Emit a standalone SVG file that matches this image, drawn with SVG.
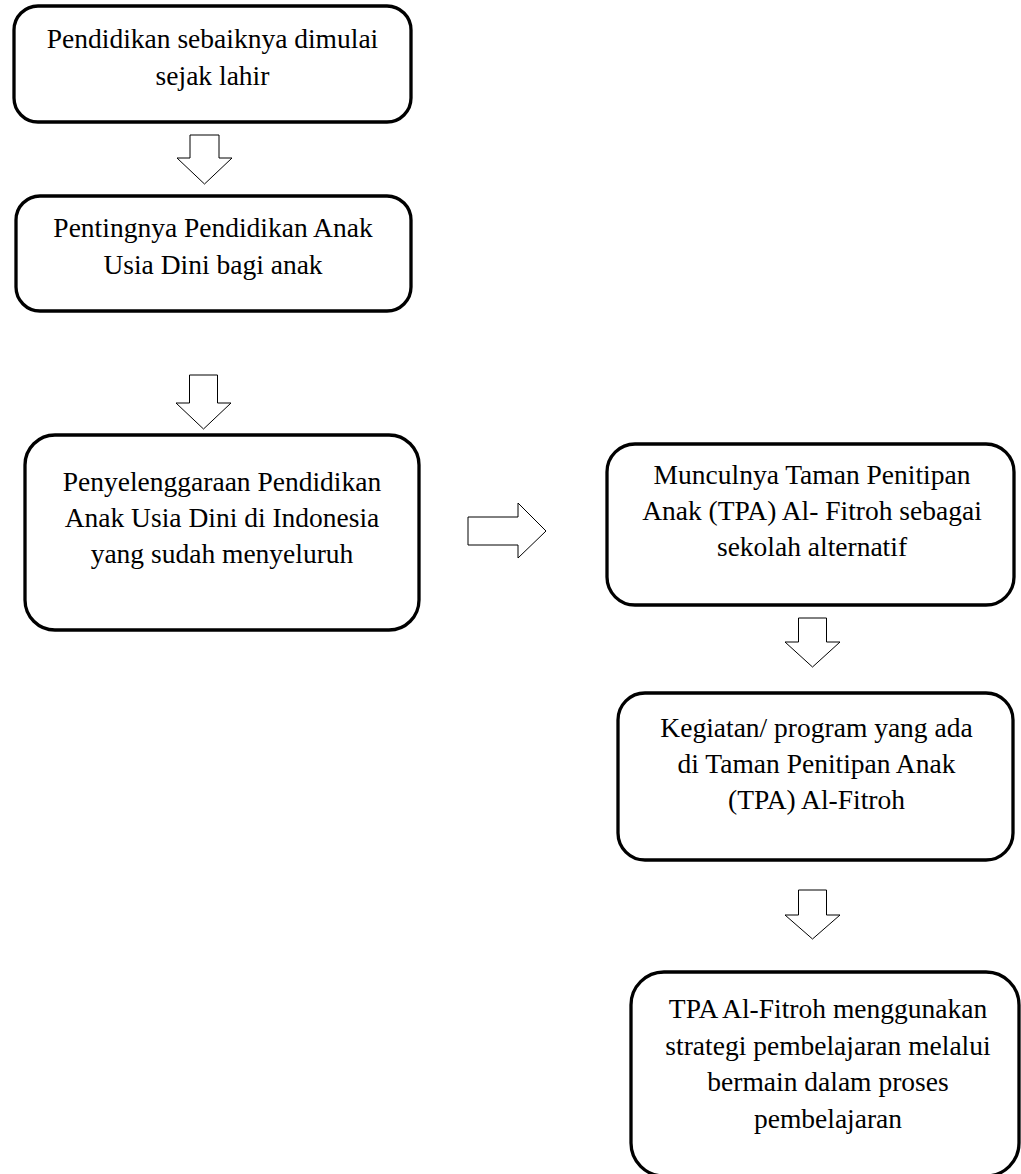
<svg xmlns="http://www.w3.org/2000/svg" width="1021" height="1174" viewBox="0 0 1021 1174">
<style>
.box{fill:#fff;stroke:#000;stroke-width:3.3}
.arr{fill:#fff;stroke:#000;stroke-width:1}
.t{font-family:"Liberation Serif","Times New Roman",serif;font-size:27.5px;fill:#000;text-anchor:middle}
</style>
<rect width="1021" height="1174" fill="#fff"/>
<g id="connectors">
<polygon class="arr" points="190,135 219,135 219,158 232,158 204.5,184 177,158 190,158"/>
<polygon class="arr" points="189.5,375 217.5,375 217.5,403 231,403 203.5,429 176,403 189.5,403"/>
<polygon class="arr" points="468,517 518,517 518,503 546,531 518,558 518,545 468,545"/>
<polygon class="arr" points="798.5,618 826.5,618 826.5,642 840,642 812.5,667 785,642 798.5,642"/>
<polygon class="arr" points="798.5,890 826.5,890 826.5,915 840,915 812.5,939 785,915 798.5,915"/>
</g>
<g id="node1">
<rect class="box" x="14" y="6" width="397" height="116" rx="24"/>
<text class="t" x="212.5" y="48">Pendidikan sebaiknya dimulai</text>
<text class="t" x="212.5" y="84.5">sejak lahir</text>
</g>
<g id="node2">
<rect class="box" x="16" y="196" width="395" height="115" rx="24"/>
<text class="t" x="213" y="237">Pentingnya Pendidikan Anak</text>
<text class="t" x="213" y="273.5">Usia Dini bagi anak</text>
</g>
<g id="node3">
<rect class="box" x="25" y="435" width="394" height="195" rx="30"/>
<text class="t" x="222" y="491">Penyelenggaraan Pendidikan</text>
<text class="t" x="222" y="527">Anak Usia Dini di Indonesia</text>
<text class="t" x="222" y="563">yang sudah menyeluruh</text>
</g>
<g id="node4">
<rect class="box" x="607" y="444" width="407" height="161" rx="28"/>
<text class="t" x="812" y="484">Munculnya Taman Penitipan</text>
<text class="t" x="812" y="520">Anak (TPA) Al- Fitroh sebagai</text>
<text class="t" x="812" y="556">sekolah alternatif</text>
</g>
<g id="node5">
<rect class="box" x="618" y="693" width="395" height="167" rx="27"/>
<text class="t" x="816.5" y="737">Kegiatan/ program yang ada</text>
<text class="t" x="816.5" y="773">di Taman Penitipan Anak</text>
<text class="t" x="816.5" y="809">(TPA) Al-Fitroh</text>
</g>
<g id="node6">
<rect class="box" x="631" y="972" width="388" height="204" rx="33"/>
<text class="t" x="828" y="1018">TPA Al-Fitroh menggunakan</text>
<text class="t" x="828" y="1054.5">strategi pembelajaran melalui</text>
<text class="t" x="828" y="1091">bermain dalam proses</text>
<text class="t" x="828" y="1127.5">pembelajaran</text>
</g>
</svg>
